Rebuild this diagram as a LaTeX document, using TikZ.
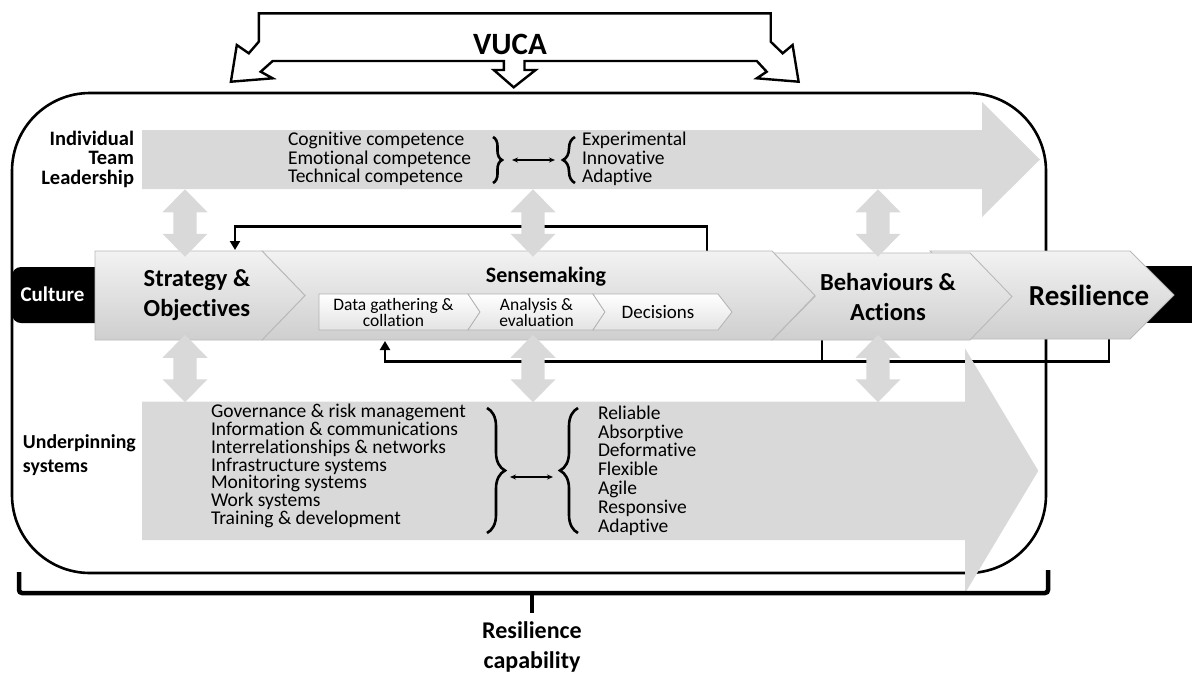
\documentclass[tikz,border=0pt]{standalone}
\usepackage{fontspec}
\setmainfont{Carlito}[Ligatures=NoCommon]
\usetikzlibrary{arrows.meta,decorations.pathreplacing}
\definecolor{bandgrey}{HTML}{D9D9D9}
% font size with tight line spacing
\newcommand{\myfs}[2]{\fontsize{#1}{#2}\selectfont\lineskiplimit=-50pt\relax}

\begin{document}
\begin{tikzpicture}[x=1pt,y=-1pt,line join=miter,
  every node/.style={inner sep=0pt,outer sep=0pt},
  band/.style={fill=bandgrey},
  frame/.style={line width=2.6pt},
  chev/.style={draw=gray!55,line width=0.9pt,top color=gray!10,middle color=white,bottom color=gray!38},
  subchev/.style={draw=gray!60,line width=0.8pt,top color=white,bottom color=gray!22},
  fb/.style={line width=2.8pt,-{Triangle[length=9pt,width=10pt]}},
  fbline/.style={line width=2.8pt},
  link/.style={line width=1.3pt,{Stealth[length=6pt,width=5pt]}-{Stealth[length=6pt,width=5pt]}},
  brc/.style={line width=2.6pt,decorate,decoration={brace,amplitude=#1}},
  hd/.style={font=\bfseries\myfs{#1}{#1}},
  reg/.style={font=\myfs{19.5}{#1},align=left,anchor=west},
  sub/.style={font=\myfs{17.5}{16},align=center},
  dblarrow/.pic={\fill[bandgrey] (0,-33.75) -- (22.5,-10.75) -- (11.7,-10.75) -- (11.7,10.75)
      -- (22.5,10.75) -- (0,33.75) -- (-22.5,10.75) -- (-11.7,10.75) -- (-11.7,-10.75)
      -- (-22.5,-10.75) -- cycle;}
]
\useasboundingbox (0,0) rectangle (1192,673);

% outer frame of the capability area
\draw[frame,rounded corners=78pt] (12,93) rectangle (1046,573);

% black culture bars behind the chevron row
\fill[rounded corners=9pt] (12,267) rectangle (140,323);
\fill (1100,266) rectangle (1192,323);
\node[hd=21,text=white] (culture) at (52.5,294) {Culture};

% anchor points of the feedback loops
\coordinate (senseTop) at (707,251);
\coordinate (stratTop) at (235,250);
\coordinate (resBot) at (1109,339);
\coordinate (behBot) at (822,340);
\coordinate (dataBot) at (385,341);
\coordinate (loopLow) at (822,361.7);

\draw[fb] (senseTop) -- ++(0,-24.3) -| (stratTop);
\draw[fb] (resBot) -- ++(0,22.7) -| (dataBot);
\draw[fbline] (behBot) -- (loopLow);

% wide grey arrows
\fill[band] (142,130) -- (982,130) -- (982,102) -- (1040,159.5) -- (982,217) -- (982,189) -- (142,189) -- cycle;
\fill[band] (142,401.7) -- (965,401.7) -- (965,348.3) -- (1038.3,470.8) -- (965,593.3) -- (965,540) -- (142,540) -- cycle;

% process chevrons (drawn right to left so each tip lies on top)
\path[chev] (930,251) -- (1130,251) -- (1174,295) -- (1130,339) -- (930,339) -- (971,295) -- cycle;
\path[chev] (772,253) -- (970,253) -- (1012,296.5) -- (970,340) -- (772,340) -- (815,296.5) -- cycle;
\path[chev] (262,251) -- (772,251) -- (815,295.5) -- (772,340) -- (262,340) -- (305,295.5) -- cycle;
\path[chev] (95,251) -- (262,251) -- (305,295.5) -- (262,340) -- (95,340) -- cycle;

% sensemaking sub-steps
\path[subchev] (319,294) -- (468,294) -- (480,312) -- (468,330) -- (319,330) -- cycle;
\path[subchev] (468,294) -- (593,294) -- (605,312) -- (593,330) -- (468,330) -- (480,312) -- cycle;
\path[subchev] (593,294) -- (718,294) -- (732,312) -- (718,330) -- (593,330) -- (605,312) -- cycle;

\node[align=center,font=\bfseries\myfs{24.5}{30}] (strat) at (197,295) {Strategy \&\\Objectives};
\node[hd=22] (sense) at (546,277) {Sensemaking};
\node[sub] (data) at (393.5,312) {Data gathering \&\\collation};
\node[sub] (anal) at (536.5,312) {Analysis \&\\evaluation};
\node[font=\myfs{19}{19}] (dec) at (658,312) {Decisions};
\node[align=center,font=\bfseries\myfs{24.5}{30}] (behav) at (888,297) {Behaviours \&\\Actions};
\node[hd=29] (resil) at (1089,295) {Resilience};

% vertical two-way links between levels
\foreach \cx in {185,533,878}{
  \pic at (\cx,223) {dblarrow};
  \pic at (\cx,368.5) {dblarrow};
}

% individual / team / leadership level
\node[align=right,anchor=east,font=\bfseries\myfs{20.5}{19.5}] (itl) at (134,159) {Individual\\Team\\Leadership};
\node[reg=18.5] (compL) at (288,159) {Cognitive competence\\Emotional competence\\Technical competence};
\node[reg=18.5] (compR) at (582,159) {Experimental\\Innovative\\Adaptive};
\coordinate (ctA) at (493,137);
\coordinate (ctB) at (493,183);
\coordinate (ctC) at (575,183);
\coordinate (ctD) at (575,137);
\draw[brc=9pt] (ctA) -- (ctB);
\draw[brc=12pt] (ctC) -- (ctD);
\coordinate (clL) at (512,160);
\coordinate (clR) at (555,160);
\draw[link] (clL) -- (clR);

% underpinning systems level
\node[align=left,anchor=west,font=\bfseries\myfs{19.8}{23.4}] (under) at (23,455) {Underpinning\\systems};
\node[reg=17.8] (sysL) at (211,466) {Governance \& risk management\\Information \& communications\\Interrelationships \& networks\\Infrastructure systems\\Monitoring systems\\Work systems\\Training \& development};
\node[reg=18.8] (sysR) at (598,470.5) {Reliable\\Absorptive\\Deformative\\Flexible\\Agile\\Responsive\\Adaptive};
\coordinate (sbA) at (487,408);
\coordinate (sbB) at (487,533);
\coordinate (sbC) at (578,533);
\coordinate (sbD) at (578,408);
\draw[brc=18pt] (sbA) -- (sbB);
\draw[brc=18pt] (sbC) -- (sbD);
\coordinate (slL) at (510,477);
\coordinate (slR) at (553,477);
\draw[link] (slL) -- (slR);

% VUCA block arrow
\draw[line width=2.4pt,fill=white]
  (258.8,13.3) -- (770.7,13.3) -- (770.7,41.7) -- (782.7,53.3) -- (792.6,45) -- (798.6,81.7)
  -- (756.8,78.3) -- (766.7,71.7) -- (756.8,61) -- (524.5,61) -- (524.5,70) -- (535.6,70)
  -- (513.7,87.3) -- (493.8,70) -- (503.8,70) -- (503.8,61) -- (272.7,61) -- (260.7,71.7)
  -- (272.7,78.3) -- (230.9,81.7) -- (236.8,45) -- (248.8,53.3) -- (258.8,41.7) -- cycle;
\node[hd=31] (vuca) at (510,44) {VUCA};

% resilience capability bracket
\coordinate (brL) at (19,572);
\coordinate (brR) at (1048,570);
\coordinate (brM) at (532,593);
\draw[line width=4.5pt,rounded corners=3pt] (brL) -- (19,593) -- (1048,593) -- (brR);
\draw[line width=4.5pt] (brM) -- ++(0,20);
\node[align=center,font=\bfseries\myfs{24}{30}] (rescap) at (532,647) {Resilience\\capability};
\end{tikzpicture}
\end{document}
